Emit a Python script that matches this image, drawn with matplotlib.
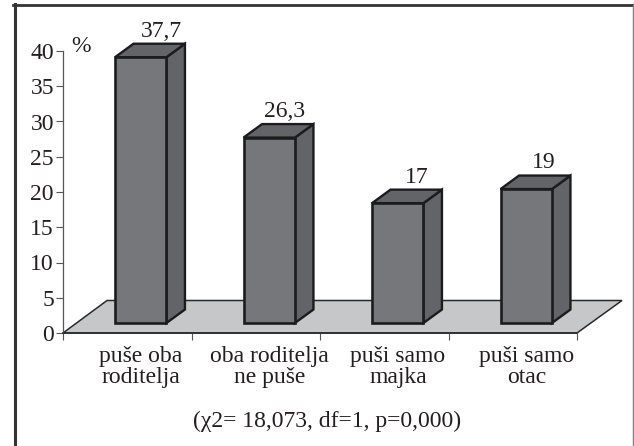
import matplotlib
matplotlib.use("Agg")
import matplotlib.pyplot as plt
from matplotlib.lines import Line2D
from matplotlib.patches import Polygon, Rectangle

categories = ["puše oba\nroditelja", "oba roditelja\nne puše", "puši samo\nmajka", "puši samo\notac"]
values = [37.7, 26.3, 17, 19]
value_labels = ["37,7", "26,3", "17", "19"]
y_ticks = [0, 5, 10, 15, 20, 25, 30, 35, 40]
note = "(χ2= 18,073, df=1, p=0,000)"

plt.rcParams["font.family"] = ["Liberation Serif", "DejaVu Serif"]
W, H = 634, 446
fig = plt.figure(figsize=(W/100, H/100), dpi=100)
# frame of the printed figure: open at the bottom, thin on the right
fig.add_artist(Line2D([14.5/W, 14.5/W], [0, 1-3.7/H], color="#333335", linewidth=2.2))
fig.add_artist(Line2D([13/W, 1], [1-5/H, 1-5/H], color="#333335", linewidth=2.0))
fig.add_artist(Line2D([633/W, 633/W], [0, 1-5/H], color="#808082", linewidth=1.0))

ax = fig.add_axes([63/W, 1-333/H, 514/W, 282/H])
ax.set_xlim(0, 4)
ax.set_ylim(0, 40)
ax.patch.set_visible(False)

# oblique offset of the fake 3d
dx = 18.5/128.5
dy = 13.5/7.05
base = 10/7.05
bar_off = 0.405
bar_w = 0.4
edge = "#1c1c1e"
txt = "#231f20"
label_shift = [0.16, 0.12, 0.15, 0.14]

floor = Polygon([(0, 0), (4, 0), (4+45/128.5, 32.5/7.05), (44/128.5, 32.5/7.05)],
                closed=True, facecolor="#c6c7c9", edgecolor="#2a2a2c", linewidth=1.1,
                clip_on=False, zorder=1)
ax.add_patch(floor)

for i, v in enumerate(values):
    x0 = i+bar_off
    x1 = x0+bar_w
    top = base+v
    ax.add_patch(Polygon([(x1, base), (x1+dx, base+dy), (x1+dx, top+dy), (x1, top)], closed=True,
                         facecolor="#636467", edgecolor=edge, linewidth=1.7, clip_on=False, zorder=3))
    ax.add_patch(Polygon([(x0, top), (x1, top), (x1+dx, top+dy), (x0+dx, top+dy)], closed=True,
                         facecolor="#636467", edgecolor=edge, linewidth=1.7, clip_on=False, zorder=3))
    ax.add_patch(Rectangle((x0, base), bar_w, v, facecolor="#76777b", edgecolor=edge,
                           linewidth=1.9, clip_on=False, zorder=4))
    ax.text(x0+bar_w/2+label_shift[i], top+dy+1.0, value_labels[i], ha="center", va="baseline",
            fontsize=17, color=txt)

for s in ["top", "right"]:
    ax.spines[s].set_visible(False)
ax.spines["left"].set_color("#55565a")
ax.spines["bottom"].set_color("#2a2a2c")
ax.spines["left"].set_linewidth(0.9)
ax.spines["bottom"].set_linewidth(1.1)
ax.set_yticks(y_ticks)
ax.set_yticklabels([str(t) for t in y_ticks], fontsize=17, color=txt)
ax.set_xticks(range(5))
ax.set_xticklabels([])
ax.tick_params(axis="y", length=5, width=0.8, color="#55565a", pad=1.5)
ax.tick_params(axis="x", length=5, width=0.8, color="#55565a", direction="out")
for i, c in enumerate(categories):
    ax.text(i+0.607, -1.8, c, ha="center", va="top", fontsize=17, color=txt, linespacing=1.0)
ax.text(0.14, 42.1, "%", ha="center", va="top", fontsize=17, color=txt)
ax.text(2.055, -12.5, note, ha="center", va="center", fontsize=17, color=txt)

fig.savefig("out.png", dpi=100)
